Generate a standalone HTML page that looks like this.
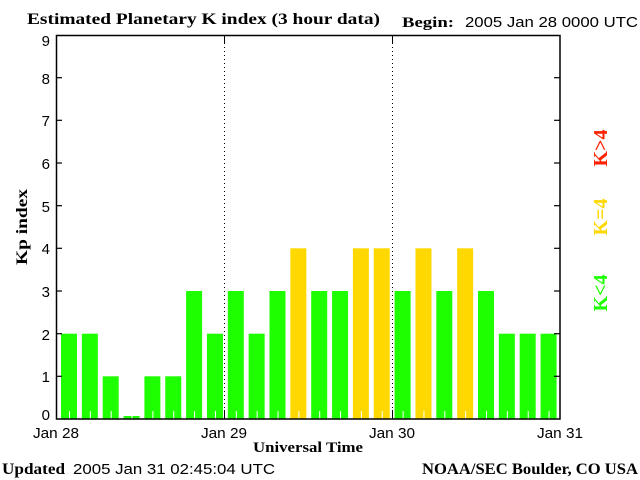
<!DOCTYPE html>
<html><head><meta charset="utf-8"><style>
html,body{margin:0;padding:0;background:#fff;}
svg{display:block}
.s{font-family:"Liberation Sans","DejaVu Sans",sans-serif;}
.b{font-family:"Liberation Serif","DejaVu Serif",serif;font-weight:bold;}
</style></head><body>
<svg width="640" height="480" viewBox="0 0 640 480" xmlns="http://www.w3.org/2000/svg">
<rect width="640" height="480" fill="#fff"/>
<text x="27" y="24" class="b" font-size="16" textLength="353" lengthAdjust="spacingAndGlyphs">Estimated Planetary K index (3 hour data)</text>
<text x="402" y="27" class="b" font-size="15" textLength="52" lengthAdjust="spacingAndGlyphs">Begin:</text>
<text x="465" y="27" class="s" font-size="15" textLength="173" lengthAdjust="spacingAndGlyphs">2005 Jan 28 0000 UTC</text>
<g fill="#1eff00">
<rect x="61" y="333.7" width="16" height="85.3"/>
<rect x="81.85" y="333.7" width="16" height="85.3"/>
<rect x="102.7" y="376.3" width="16" height="42.7"/>
<rect x="123.55" y="416" width="16" height="3"/>
<rect x="144.4" y="376.3" width="16" height="42.7"/>
<rect x="165.25" y="376.3" width="16" height="42.7"/>
<rect x="186.1" y="291" width="16" height="128"/>
<rect x="206.95" y="333.7" width="16" height="85.3"/>
<rect x="227.8" y="291" width="16" height="128"/>
<rect x="248.65" y="333.7" width="16" height="85.3"/>
<rect x="269.5" y="291" width="16" height="128"/>
<rect x="311.2" y="291" width="16" height="128"/>
<rect x="332.05" y="291" width="16" height="128"/>
<rect x="394.6" y="291" width="16" height="128"/>
<rect x="436.3" y="291" width="16" height="128"/>
<rect x="478" y="291" width="16" height="128"/>
<rect x="498.85" y="333.7" width="16" height="85.3"/>
<rect x="519.7" y="333.7" width="16" height="85.3"/>
<rect x="540.55" y="333.7" width="16" height="85.3"/>
</g>
<g fill="#ffd800">
<rect x="290.35" y="248.3" width="16" height="170.7"/>
<rect x="352.9" y="248.3" width="16" height="170.7"/>
<rect x="373.75" y="248.3" width="16" height="170.7"/>
<rect x="415.45" y="248.3" width="16" height="170.7"/>
<rect x="457.15" y="248.3" width="16" height="170.7"/>
</g>
<g fill="#fff">
<rect x="69" y="411" width="1" height="8"/><rect x="89.85" y="411" width="1" height="8"/><rect x="110.7" y="411" width="1" height="8"/><rect x="131.55" y="411" width="1" height="8"/><rect x="152.4" y="411" width="1" height="8"/><rect x="173.25" y="411" width="1" height="8"/><rect x="194.1" y="411" width="1" height="8"/><rect x="214.95" y="411" width="1" height="8"/><rect x="235.8" y="411" width="1" height="8"/><rect x="256.65" y="411" width="1" height="8"/><rect x="277.5" y="411" width="1" height="8"/><rect x="298.35" y="411" width="1" height="8"/><rect x="319.2" y="411" width="1" height="8"/><rect x="340.05" y="411" width="1" height="8"/><rect x="360.9" y="411" width="1" height="8"/><rect x="381.75" y="411" width="1" height="8"/><rect x="402.6" y="411" width="1" height="8"/><rect x="423.45" y="411" width="1" height="8"/><rect x="444.3" y="411" width="1" height="8"/><rect x="465.15" y="411" width="1" height="8"/><rect x="486" y="411" width="1" height="8"/><rect x="506.85" y="411" width="1" height="8"/><rect x="527.7" y="411" width="1" height="8"/><rect x="548.55" y="411" width="1" height="8"/>
</g>
<line x1="224.5" y1="35" x2="224.5" y2="419" stroke="#000" stroke-dasharray="1,3"/>
<line x1="392.5" y1="35" x2="392.5" y2="419" stroke="#000" stroke-dasharray="1,3"/>
<line x1="224.5" y1="35" x2="224.5" y2="44" stroke="#000"/>
<line x1="392.5" y1="35" x2="392.5" y2="44" stroke="#000"/>
<line x1="224.5" y1="410" x2="224.5" y2="419" stroke="#000"/>
<line x1="392.5" y1="410" x2="392.5" y2="419" stroke="#000"/>
<rect x="56.5" y="35.5" width="503.5" height="383.5" fill="none" stroke="#000" stroke-width="1.5"/>
<g stroke="#000" stroke-width="1.2">
<line x1="56" y1="77.7" x2="62" y2="77.7"/><line x1="56" y1="120.3" x2="62" y2="120.3"/><line x1="56" y1="163" x2="62" y2="163"/><line x1="56" y1="205.7" x2="62" y2="205.7"/><line x1="56" y1="248.3" x2="62" y2="248.3"/><line x1="56" y1="291" x2="62" y2="291"/><line x1="56" y1="333.7" x2="62" y2="333.7"/><line x1="56" y1="376.3" x2="62" y2="376.3"/>
<line x1="554" y1="77.7" x2="560" y2="77.7"/><line x1="554" y1="120.3" x2="560" y2="120.3"/><line x1="554" y1="163" x2="560" y2="163"/><line x1="554" y1="205.7" x2="560" y2="205.7"/><line x1="554" y1="248.3" x2="560" y2="248.3"/><line x1="554" y1="291" x2="560" y2="291"/><line x1="554" y1="333.7" x2="560" y2="333.7"/><line x1="554" y1="376.3" x2="560" y2="376.3"/>
</g>
<g class="s" font-size="15" text-anchor="end">
<text x="50" y="46">9</text><text x="50" y="84">8</text><text x="50" y="126">7</text><text x="50" y="169">6</text><text x="50" y="212">5</text><text x="50" y="254">4</text><text x="50" y="297">3</text><text x="50" y="340">2</text><text x="50" y="382">1</text><text x="50" y="420">0</text>
</g>
<text transform="translate(27,227) rotate(-90)" class="b" font-size="16" text-anchor="middle" textLength="76" lengthAdjust="spacingAndGlyphs">Kp index</text>
<g class="s" font-size="15" text-anchor="middle">
<text x="56" y="438" textLength="46" lengthAdjust="spacingAndGlyphs">Jan 28</text><text x="224" y="438" textLength="46" lengthAdjust="spacingAndGlyphs">Jan 29</text><text x="392" y="438" textLength="46" lengthAdjust="spacingAndGlyphs">Jan 30</text><text x="560" y="438" textLength="46" lengthAdjust="spacingAndGlyphs">Jan 31</text>
</g>
<text x="253" y="452" class="b" font-size="15" textLength="110" lengthAdjust="spacingAndGlyphs">Universal Time</text>
<text x="2" y="474" class="b" font-size="16" textLength="63" lengthAdjust="spacingAndGlyphs">Updated</text>
<text x="73" y="474" class="s" font-size="15" textLength="202" lengthAdjust="spacingAndGlyphs">2005 Jan 31 02:45:04 UTC</text>
<text x="422" y="474" class="b" font-size="16" textLength="216" lengthAdjust="spacingAndGlyphs">NOAA/SEC Boulder, CO USA</text>
<g class="b" font-size="20" text-anchor="middle">
<text transform="translate(607,148) rotate(-90)" fill="#ff2000">K&gt;4</text>
<text transform="translate(607,217) rotate(-90)" fill="#ffd800">K=4</text>
<text transform="translate(607,293) rotate(-90)" fill="#1eff00">K&lt;4</text>
</g>
</svg>
</body></html>
